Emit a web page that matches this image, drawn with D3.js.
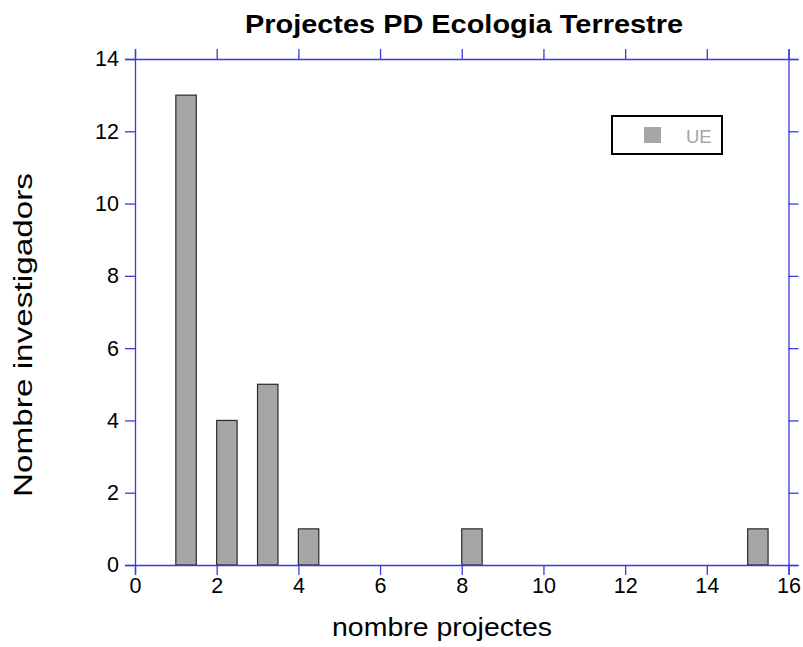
<!DOCTYPE html>
<html><head><meta charset="utf-8">
<script src="https://cdn.jsdelivr.net/npm/d3@7"></script>
<style>body{margin:0;background:#fff;} text{font-family:"Liberation Sans",Arial,sans-serif;}</style>
</head><body>
<svg id="c" width="803" height="647"></svg>
<script>
const categories = [1, 2, 3, 4, 8, 15];
const values = [13, 4, 5, 1, 1, 1];
const seriesName = "UE";
const xTicks = [0,2,4,6,8,10,12,14,16];
const yTicks = [0,2,4,6,8,10,12,14];

const svg = d3.select("#c");
const L=135, R=788.5, T=59, B=565;
const x = d3.scaleLinear().domain([0,16]).range([L,R]);
const y = d3.scaleLinear().domain([0,14]).range([B,T]);
const axisColor = "#3a3adf";

svg.append("g").selectAll("rect").data(categories).join("rect")
  .attr("x", d=>x(d)).attr("width", d=>x(d+0.5)-x(d))
  .attr("y", (d,i)=>y(values[i])).attr("height",(d,i)=>y(0)-y(values[i]))
  .attr("fill","#a6a6a6").attr("stroke","#2a2a2a").attr("stroke-width",1.2);

function styleAxis(g, labels){
  g.attr("font-size",null).attr("font-family",null);
  g.select(".domain").attr("stroke",axisColor).attr("stroke-width",1.3);
  g.selectAll(".tick line").attr("stroke",axisColor).attr("stroke-width",1.3);
  g.selectAll(".tick text").attr("fill","#000").style("font-size","21.5px")
    .style("font-family","'Liberation Sans',Arial,sans-serif");
  if(!labels) g.selectAll(".tick text").remove();
}
svg.append("g").attr("transform",`translate(0,${B})`)
  .call(d3.axisBottom(x).tickValues(xTicks).tickSize(10).tickPadding(3).tickFormat(d3.format("d")))
  .call(g=>styleAxis(g,true));
svg.append("g").attr("transform",`translate(0,${T})`)
  .call(d3.axisTop(x).tickValues(xTicks).tickSize(10))
  .call(g=>styleAxis(g,false));
svg.append("g").attr("transform",`translate(${L},0)`)
  .call(d3.axisLeft(y).tickValues(yTicks).tickSize(10).tickPadding(6).tickFormat(d3.format("d")))
  .call(g=>styleAxis(g,true));
svg.append("g").attr("transform",`translate(${R},0)`)
  .call(d3.axisRight(y).tickValues(yTicks).tickSize(10))
  .call(g=>styleAxis(g,false));

svg.append("text").attr("x",464).attr("y",33).attr("text-anchor","middle")
  .attr("textLength",438).attr("lengthAdjust","spacingAndGlyphs")
  .style("font-size","25px").style("font-weight","bold").text("Projectes PD Ecologia Terrestre");
svg.append("text").attr("x",442).attr("y",636).attr("text-anchor","middle")
  .attr("textLength",220).attr("lengthAdjust","spacingAndGlyphs")
  .style("font-size","26px").text("nombre projectes");
svg.append("text").attr("transform","translate(32,335) rotate(-90)").attr("text-anchor","middle")
  .attr("textLength",324).attr("lengthAdjust","spacingAndGlyphs")
  .style("font-size","26.5px").text("Nombre investigadors");

const lg = svg.append("g");
lg.append("rect").attr("x",612).attr("y",116).attr("width",110).attr("height",38)
  .attr("fill","#fff").attr("stroke","#000").attr("stroke-width",2);
lg.append("rect").attr("x",644).attr("y",127).attr("width",17).attr("height",16).attr("fill","#a6a6a6");
lg.append("text").attr("x",686).attr("y",143).style("font-size","18.5px").attr("fill","#a6a6a6").text(seriesName);
</script>
</body></html>
